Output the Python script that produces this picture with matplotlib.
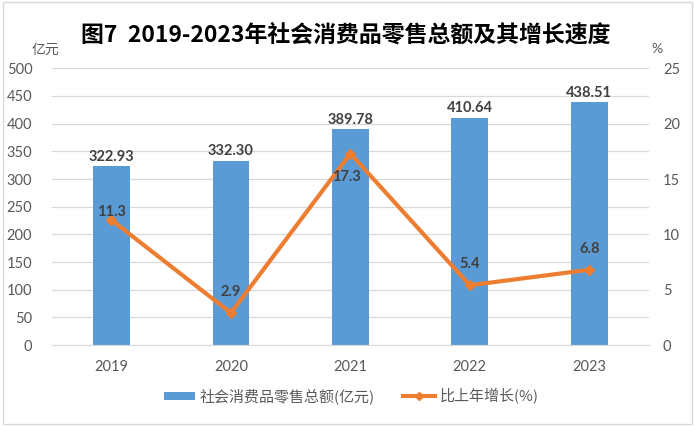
import matplotlib
matplotlib.use("Agg")
import matplotlib.pyplot as plt
from matplotlib.lines import Line2D
from matplotlib.patches import Patch, Rectangle

plt.rcParams['font.family'] = ['Noto Sans CJK SC', 'DejaVu Sans']

years = ["2019", "2020", "2021", "2022", "2023"]
sales = [322.93, 332.30, 389.78, 410.64, 438.51]
growth = [11.3, 2.9, 17.3, 5.4, 6.8]
sales_labels = ["322.93", "332.30", "389.78", "410.64", "438.51"]
growth_labels = ["11.3", "2.9", "17.3", "5.4", "6.8"]

bar_color = "#5B9BD5"
line_color = "#ED7D31"
tick_color = "#595959"
label_color = "#404040"
num_font = ['Lato', 'DejaVu Sans']

fig = plt.figure(figsize=(6.95, 4.26), dpi=100)
fig.patches.append(Rectangle((0.004, 0.004), 0.992, 0.992, transform=fig.transFigure,
                             fill=False, edgecolor="#D9D9D9", linewidth=1.0))

ax = fig.add_axes([0.0744, 0.1901, 0.8594, 0.6495])
x = list(range(len(years)))
ax.bar(x, sales, width=0.307, color=bar_color, zorder=2)
ax.set_ylim(0, 500)
ax.set_yticks(range(0, 501, 50))
ax.set_xlim(-0.5, 4.5)
ax.set_xticks(x)
ax.set_xticklabels(years, family=num_font)
for lbl in ax.get_yticklabels():
    lbl.set_family(num_font)
ax.grid(axis='y', color="#D9D9D9", linewidth=0.9, zorder=0)
ax.set_axisbelow(True)
for s in ['top', 'right', 'left']:
    ax.spines[s].set_visible(False)
ax.spines['bottom'].set_color("#D9D9D9")
ax.tick_params(axis='both', length=0, colors=tick_color, labelsize=10.5)
ax.tick_params(axis='y', pad=14)
ax.tick_params(axis='x', pad=11)

for xi, v, t in zip(x, sales, sales_labels):
    ax.annotate(t, (xi, v), xytext=(0, 2), textcoords='offset points',
                ha='center', va='bottom', fontsize=10.5, fontweight='bold',
                color=label_color, family=num_font)

ax2 = ax.twinx()
ax2.plot(x, growth, color=line_color, linewidth=3, marker='D', markersize=5, zorder=3)
ax2.set_ylim(0, 25)
ax2.set_yticks(range(0, 26, 5))
for lbl in ax2.get_yticklabels():
    lbl.set_family(num_font)
for s in ['top', 'right', 'left', 'bottom']:
    ax2.spines[s].set_visible(False)
ax2.tick_params(axis='y', length=0, colors=tick_color, labelsize=10.5, pad=10)

offsets = [(0, 1), (0, 10), (-3, -22), (0, 10), (0, 10)]
for xi, v, t, off in zip(x, growth, growth_labels, offsets):
    ax2.annotate(t, (xi, v), xytext=off, textcoords='offset points',
                 ha='center', va='bottom', fontsize=10.5, fontweight='bold',
                 color=label_color, family=num_font)

fig.text(0.497, 0.918, "图7  2019-2023年社会消费品零售总额及其增长速度", ha='center', va='center',
         fontsize=16.5, fontweight='bold', color='#000000')
fig.text(0.066, 0.882, "亿元", ha='center', va='center', fontsize=10, color=tick_color)
fig.text(0.945, 0.885, "%", ha='center', va='center', fontsize=10, color=tick_color,
         family=num_font)

handles = [Patch(facecolor=bar_color, edgecolor='none'),
           Line2D([0], [0], color=line_color, linewidth=3, marker='D', markersize=4)]
fig.legend(handles, ["社会消费品零售总额(亿元)", "比上年增长(%)"], loc='center',
           bbox_to_anchor=(0.505, 0.07), ncol=2, frameon=False, fontsize=10.8,
           labelcolor=tick_color, columnspacing=1.9, handlelength=2.1, handletextpad=0.3,
           handleheight=0.5)

fig.savefig("out.png", dpi=100)
